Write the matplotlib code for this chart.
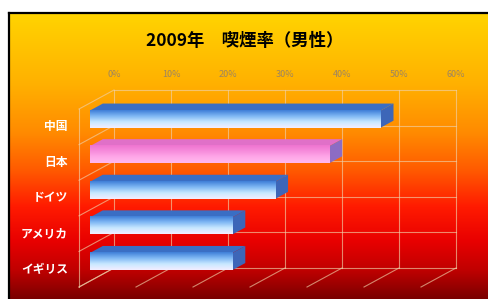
import numpy as np
import matplotlib.pyplot as plt
from matplotlib.colors import LinearSegmentedColormap
from matplotlib.patches import Polygon

plt.rcParams['font.family'] = ['Noto Sans CJK JP', 'DejaVu Sans']

title = '2009年\u3000喫煙率（男性）'
countries = ['中国', '日本', 'ドイツ', 'アメリカ', 'イギリス']
rates = [51, 42, 32.5, 25, 25]          # percent
tick_vals = [0, 10, 20, 30, 40, 50, 60]
tick_labels = ['0%', '10%', '20%', '30%', '40%', '50%', '60%']

W, H = 489, 299
fig = plt.figure(figsize=(W / 100, H / 100), dpi=100)
fig.patch.set_facecolor('white')

# background panel with vertical yellow -> red gradient
bg = fig.add_axes([9 / W, 0, 1 - 9 / W, (H - 13) / H])
stops = [(0.0, '#FFD400'), (0.25, '#FFB000'), (0.42, '#FF8A00'), (0.55, '#FF5A00'),
         (0.68, '#FF1A00'), (0.8, '#E80000'), (0.9, '#C00000'), (1.0, '#7A0000')]
cmap = LinearSegmentedColormap.from_list('bgc', stops)
bg.imshow(np.linspace(0, 1, 256).reshape(-1, 1), cmap=cmap, aspect='auto',
          extent=[0, 1, 0, 1], origin='upper')
bg.set_xlim(0, 1)
bg.set_ylim(0, 1)
bg.set_xticks([])
bg.set_yticks([])
for s in ['right', 'bottom']:
    bg.spines[s].set_visible(False)
for s in ['left', 'top']:
    bg.spines[s].set_linewidth(1.6)
    bg.spines[s].set_color('black')

fig.text(245 / W, 1 - 41 / H, title, ha='center', va='center',
         fontsize=12.5, fontweight='bold', color='black')

# main chart axes: back wall in data coords (x = percent, y = row)
ax = fig.add_axes([114 / W, (H - 268) / H, 342 / W, 178 / H])
ax.set_xlim(0, 60)
ax.set_ylim(5, 0)
ax.patch.set_visible(False)
for s in ax.spines.values():
    s.set_visible(False)
ax.xaxis.tick_top()
ax.set_xticks(tick_vals)
ax.set_xticklabels(tick_labels)
ax.tick_params(axis='x', length=0, pad=8, labelsize=6.5, labelcolor='#9C8462')
ax.set_yticks([])

dx, dy = -6.14, 0.534   # depth offset from back wall to front
gc = dict(color='#F0D0A8', alpha=0.65, lw=0.8, zorder=1, clip_on=False)
n = len(countries)
for t in tick_vals:
    ax.plot([t, t], [0, n], **gc)
    ax.plot([t, t + dx], [n, n + dy], **gc)
for r in range(n + 1):
    ax.plot([0, 60], [r, r], **gc)
    ax.plot([0, dx], [r, r + dy], **gc)
ax.plot([dx, dx], [dy, n + dy], **gc)

# 3D-ish bars
f, b = 0.69, 0.32          # front / back face depth (fraction of offset)
top, bot = 0.21, 0.69
styles = {
    'blue': dict(face=['#3F7FD8', '#7FB8F4', '#C8E8FF', '#F2EEFF'],
                 top='#3A6EC4', end='#3D66B8'),
    'pink': dict(face=['#EE74D0', '#F78CDC', '#FFA8E8', '#FFB8EE'],
                 top='#E070C8', end='#8C6CC4'),
}
for i, (name, v) in enumerate(zip(countries, rates)):
    st = styles['pink' if name == '日本' else 'blue']
    yt, yb = i + top + f * dy, i + bot + f * dy
    x0, x1 = f * dx, v + f * dx
    fcm = LinearSegmentedColormap.from_list('f%d' % i, st['face'])
    im = ax.imshow(np.linspace(0, 1, 64).reshape(-1, 1), cmap=fcm, aspect='auto',
                   extent=[x0, x1, yb, yt], origin='upper', zorder=4)
    im.set_clip_on(False)
    top_face = [(x0, yt), (x1, yt), (v + b * dx, i + top + b * dy), (b * dx, i + top + b * dy)]
    ax.add_patch(Polygon(top_face, closed=True, fc=st['top'], ec='none', zorder=3, clip_on=False))
    end_face = [(x1, yt), (v + b * dx, i + top + b * dy), (v + b * dx, i + bot + b * dy), (x1, yb)]
    ax.add_patch(Polygon(end_face, closed=True, fc=st['end'], ec='none', zorder=3, clip_on=False))
    ax.text(dx - 1.95, i + 0.5 + dy, name, ha='right', va='center', fontsize=8.5,
            fontweight='bold', color='white', clip_on=False)

ax.set_xlim(0, 60)
ax.set_ylim(5, 0)
fig.savefig('out.png', dpi=100)
